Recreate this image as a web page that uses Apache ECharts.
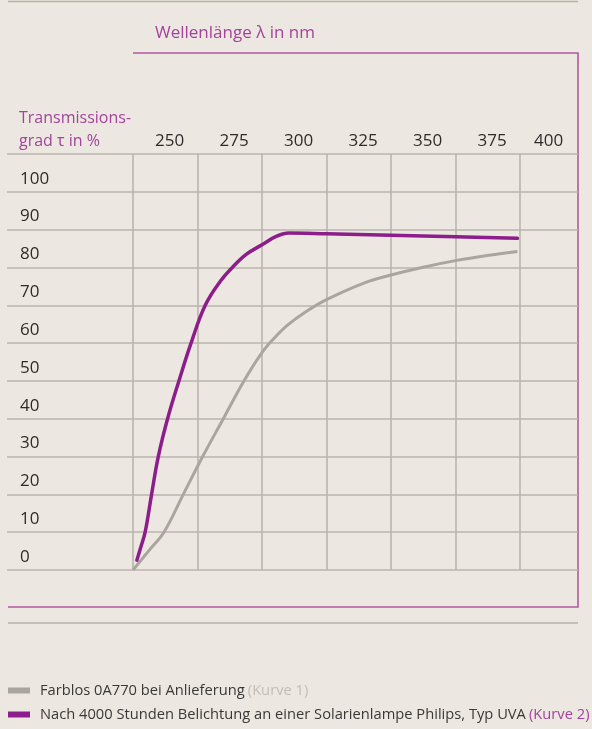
<!DOCTYPE html>
<html>
<head>
<meta charset="utf-8">
<script src="https://cdn.jsdelivr.net/npm/echarts@6/dist/echarts.min.js"></script>
<style>
  html, body { margin: 0; padding: 0; background: #ece8e1; }
  #chart { width: 592px; height: 729px; }
</style>
</head>
<body>
<div id="chart"></div>
<script>
// Transmissionsgrad (%) über Wellenlänge (nm)
const wavelengthTicks = [250, 275, 300, 325, 350, 375, 400];
const transmissionTicks = [0, 10, 20, 30, 40, 50, 60, 70, 80, 90, 100];

// Kurve 1: Farblos 0A770 bei Anlieferung
const curve1Lambda = [250, 256, 262, 269.5, 277, 285, 293, 300, 305, 310, 317, 325, 340, 350, 362, 375, 388, 399];
const curve1Tau    = [0, 5, 10, 20, 30, 40, 50, 57.5, 61.5, 64.8, 68.3, 71.5, 76, 78, 80, 81.8, 83.2, 84.2];

// Kurve 2: nach 4000 Stunden Belichtung (Solarienlampe Philips, Typ UVA)
const curve2Lambda = [251.5, 253, 254.7, 257.2, 259.8, 263.4, 267.8, 272.5, 278, 284, 288.5, 294, 300, 305.5, 310.5, 325, 350, 375, 399];
const curve2Tau    = [2.6, 6, 10, 20, 30, 40, 50, 60, 70, 76.5, 80, 83.5, 86, 88.2, 89.1, 88.9, 88.5, 88.1, 87.7];

const legendNames = ['Farblos 0A770 bei Anlieferung', 'Nach 4000 Stunden Belichtung an einer Solarienlampe Philips, Typ UVA'];
const legendTags = ['(Kurve 1)', '(Kurve 2)'];

const BG = '#ece8e1';
const PURPLE = '#8c1d8a';
const PURPLE_TEXT = '#a3449c';
const FRAME = '#b4579f';
const GREY_CURVE = '#aaa59f';
const GRID = '#bab5ad';
const INK = '#2e2c2a';
const FONT = '"Open Sans", "Noto Sans", sans-serif';

const zip = (xs, ys) => xs.map((x, i) => [x, ys[i]]);

// one legend block per curve, stacked
const legendBlock = (i, top) => ({
  orient: 'horizontal', left: 8, top: top, padding: 0,
  itemWidth: 22, itemHeight: 6, icon: 'rect',
  data: [legendNames[i]],
  formatter: name => '{t|' + name + '} {k|' + legendTags[i] + '}',
  textStyle: {
    padding: [0, 0, 0, 5],
    rich: {
      t: { fontSize: 14.7, color: '#3a3836', fontFamily: FONT },
      k: { fontSize: 14.7, color: i === 0 ? '#c2beb7' : PURPLE_TEXT, fontFamily: FONT }
    }
  }
});

const chart = echarts.init(document.getElementById('chart'), null, { renderer: 'canvas' });

chart.setOption({
  backgroundColor: BG,
  animation: false,
  textStyle: { fontFamily: FONT },
  grid: [
    // plot area with the wavelength scale
    { left: 133, right: 72, top: 154, bottom: 159 },
    // full-width band carrying the horizontal rules and τ labels
    { left: 7, right: 14, top: 154, bottom: 159 }
  ],
  xAxis: [
    {
      gridIndex: 0, type: 'value', position: 'top',
      min: 250, max: 400, interval: 25,
      axisLine: { show: false }, axisTick: { show: false },
      splitLine: { show: true, lineStyle: { color: GRID, width: 1.6 } },
      axisLabel: {
        margin: 4, align: 'left', color: INK, fontSize: 17, fontFamily: FONT,
        formatter: v => (v === 400 ? '{e|' + v + '}' : '{n|' + v + '}'),
        rich: {
          n: { padding: [0, 0, 0, 22], fontSize: 17, color: INK, fontFamily: FONT },
          e: { padding: [0, 0, 0, 14], fontSize: 17, color: INK, fontFamily: FONT }
        }
      }
    },
    { gridIndex: 1, type: 'value', min: 0, max: 1, show: false }
  ],
  yAxis: [
    {
      gridIndex: 0, type: 'value', min: 0, max: 110, interval: 10,
      axisLine: { show: false }, axisTick: { show: false },
      axisLabel: { show: false }, splitLine: { show: false }
    },
    {
      gridIndex: 1, type: 'value', min: 0, max: 110, interval: 10,
      axisLine: { show: false }, axisTick: { show: false },
      splitLine: { show: true, lineStyle: { color: GRID, width: 1.6 } },
      axisLabel: {
        inside: true, margin: 13, align: 'left', verticalAlign: 'bottom',
        lineHeight: 26, color: INK, fontSize: 17, fontFamily: FONT,
        formatter: v => (transmissionTicks.includes(v) ? String(v) : '')
      }
    }
  ],
  legend: [legendBlock(0, 683), legendBlock(1, 707)],
  graphic: [
    { type: 'line', shape: { x1: 8, y1: 1.5, x2: 578, y2: 1.5 }, style: { stroke: '#b7b2ab', lineWidth: 1.5 } },
    { type: 'polyline', shape: { points: [[133, 53], [578, 53], [578, 607], [8, 607]] },
      style: { stroke: FRAME, lineWidth: 1.6, fill: null } },
    { type: 'line', shape: { x1: 8, y1: 623, x2: 578, y2: 623 }, style: { stroke: '#b7b2ab', lineWidth: 1.5 } },
    { type: 'text', left: 155, top: 25,
      style: { text: 'Wellenlänge λ in nm', fill: PURPLE_TEXT, font: '17px ' + FONT } },
    { type: 'text', left: 19, top: 107,
      style: { text: 'Transmissions-\ngrad τ in %', fill: PURPLE_TEXT, font: '16px ' + FONT, lineHeight: 23 } }
  ],
  series: [
    {
      name: legendNames[0], type: 'line', xAxisIndex: 0, yAxisIndex: 0,
      data: zip(curve1Lambda, curve1Tau), showSymbol: false,
      smooth: 0.4, color: GREY_CURVE,
      lineStyle: { color: GREY_CURVE, width: 3 }, z: 5
    },
    {
      name: legendNames[1], type: 'line', xAxisIndex: 0, yAxisIndex: 0,
      data: zip(curve2Lambda, curve2Tau), showSymbol: false,
      smooth: 0.4, color: PURPLE,
      lineStyle: { color: PURPLE, width: 3.5, cap: 'round' }, z: 6
    }
  ]
});
</script>
</body>
</html>
